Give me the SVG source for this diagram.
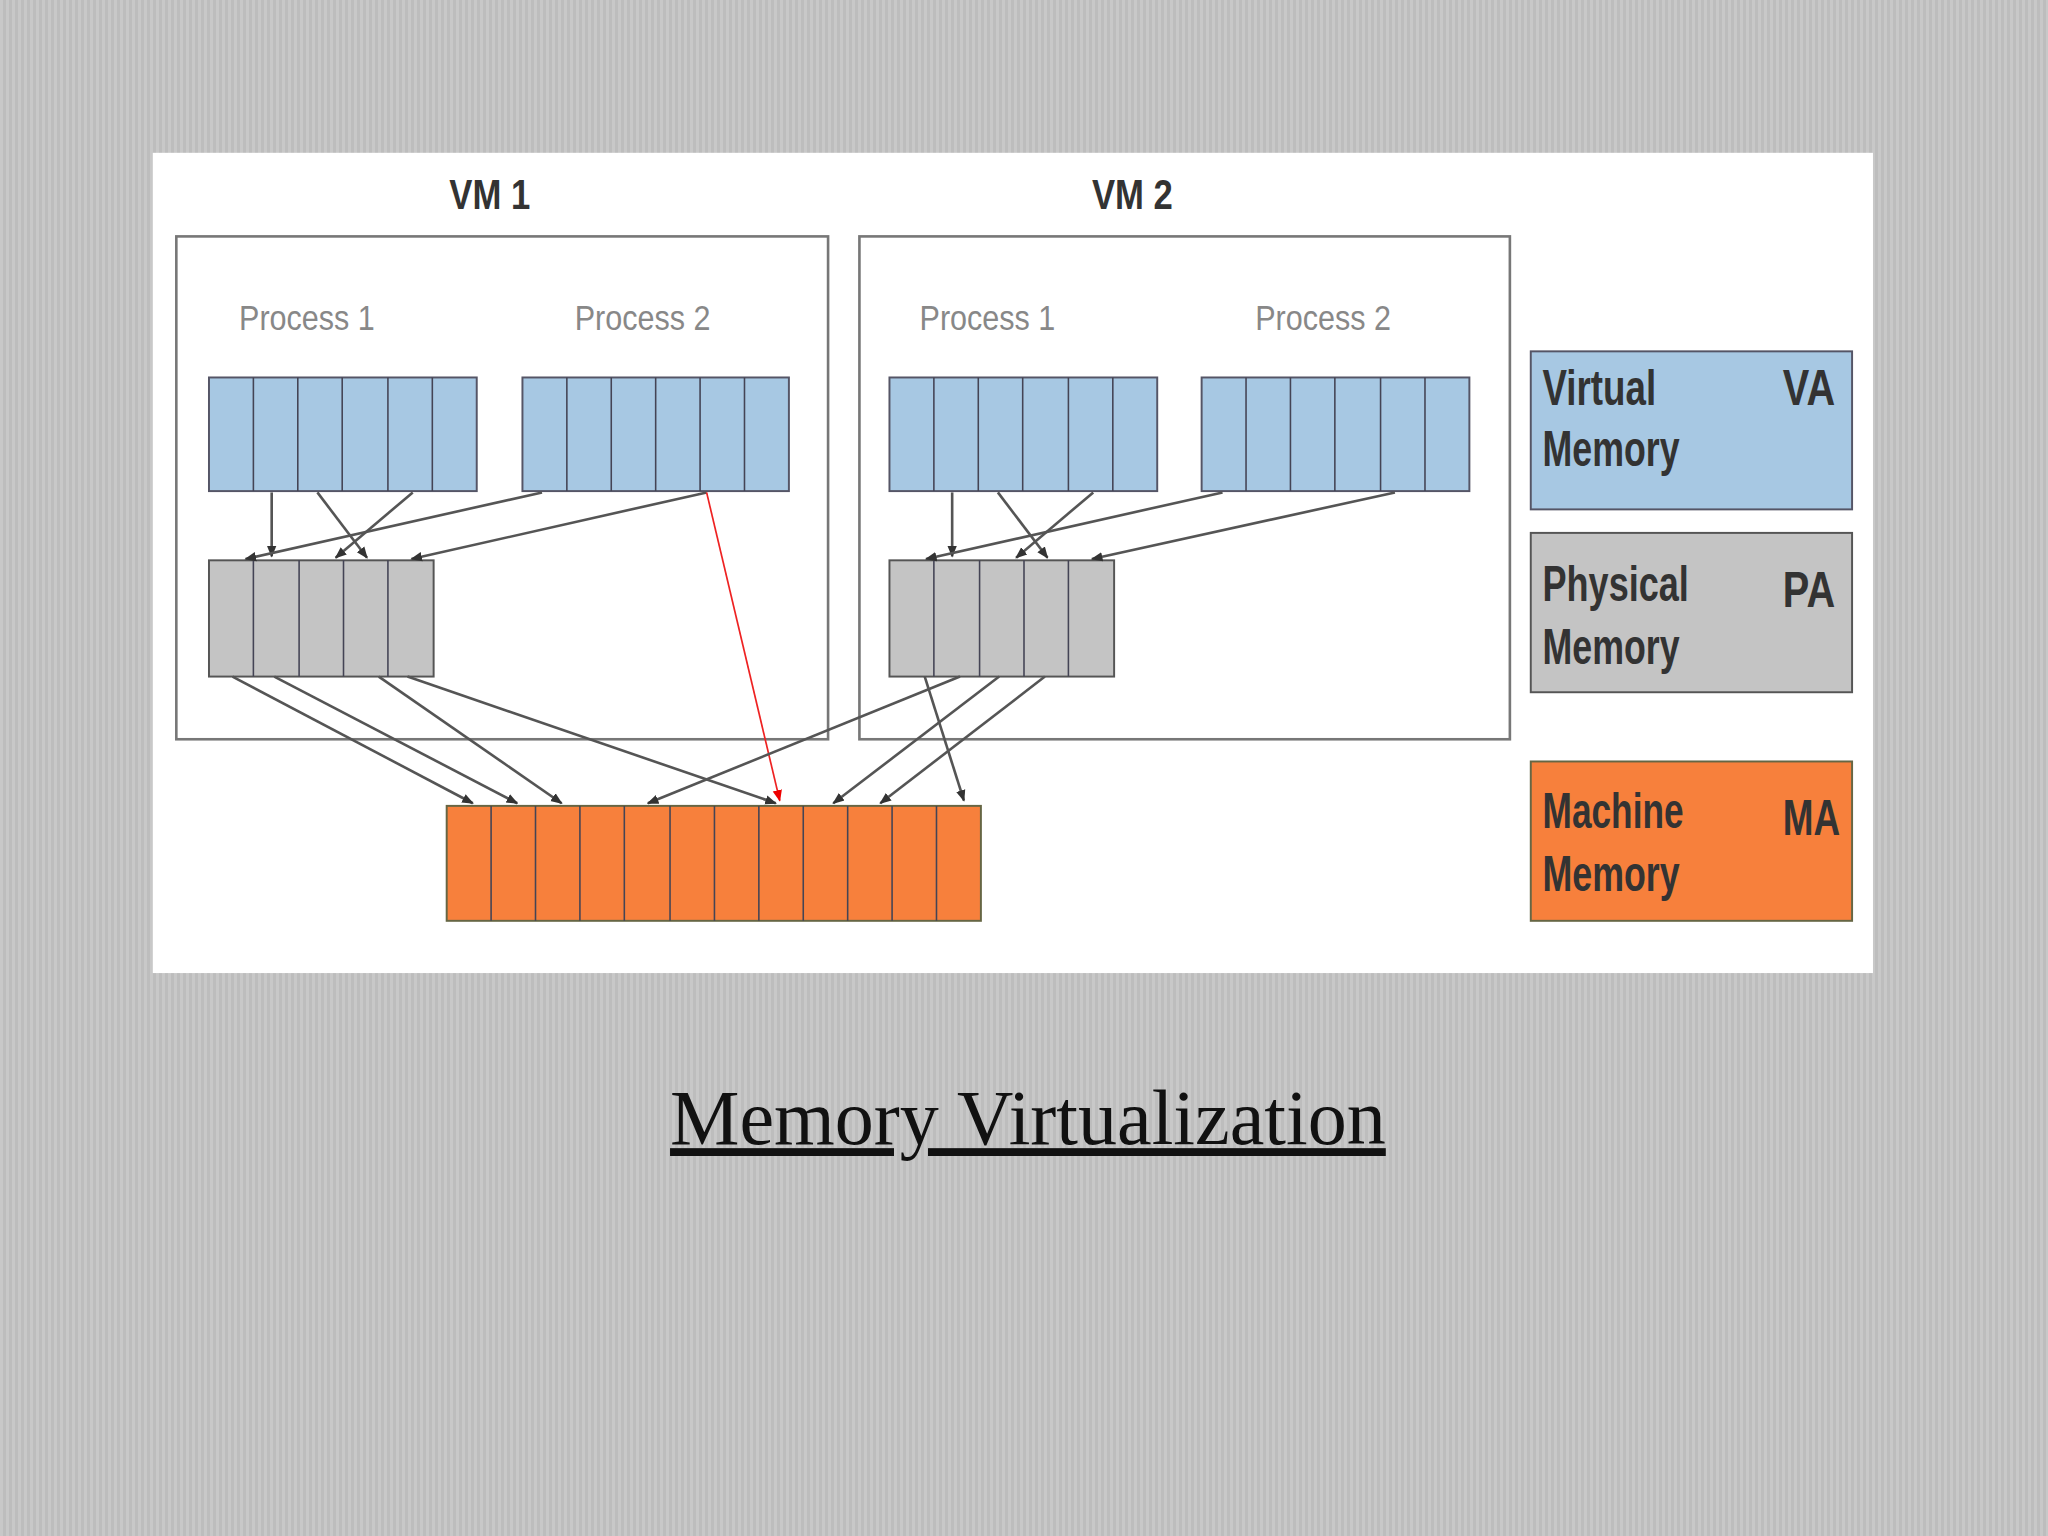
<svg xmlns="http://www.w3.org/2000/svg" width="2048" height="1536" viewBox="0 0 2048 1536">
<defs>
<pattern id="stripes" width="6" height="10" patternUnits="userSpaceOnUse">
<rect width="6" height="10" fill="#bdbdbd"/><rect width="3" height="10" fill="#c8c8c8"/>
</pattern>
<marker id="ah" viewBox="0 0 10 10" refX="9" refY="5" markerWidth="9" markerHeight="9" markerUnits="userSpaceOnUse" orient="auto"><path d="M0,1 L10,5 L0,9 z" fill="#333"/></marker>
<marker id="ahr" viewBox="0 0 10 10" refX="9" refY="5" markerWidth="9" markerHeight="9" markerUnits="userSpaceOnUse" orient="auto"><path d="M0,1 L10,5 L0,9 z" fill="#e00"/></marker>
</defs>
<style>
.va{fill:#a7c8e3;stroke:#556;stroke-width:1.5}
.pa{fill:#c4c4c4;stroke:#555;stroke-width:1.5}
.ma{fill:#f7803c;stroke:#664;stroke-width:1.5}
.cell{stroke:#445;stroke-width:1.2}
.vm{fill:none;stroke:#777;stroke-width:2}
.proc{font-family:"Liberation Sans",sans-serif;font-size:27px;fill:#888}
.vmt{font-family:"Liberation Sans",sans-serif;font-size:32px;font-weight:bold;fill:#333}
.leg{font-family:"Liberation Sans",sans-serif;font-size:38px;font-weight:bold;fill:#333}
.c{fill:none;stroke:#555;stroke-width:2;marker-end:url(#ah)}
</style>
<rect width="2048" height="1536" fill="url(#stripes)"/>
<g transform="scale(1.30612)">
<rect x="117" y="117" width="1317" height="628" fill="#fff"/>
<g id="vm1"><rect class="vm" x="135" y="181" width="499" height="385"/><text class="vmt" x="375" y="160" text-anchor="middle" textLength="62" lengthAdjust="spacingAndGlyphs">VM 1</text>
<text class="proc" x="235" y="253" text-anchor="middle" textLength="104" lengthAdjust="spacingAndGlyphs">Process 1</text>
<text class="proc" x="492" y="253" text-anchor="middle" textLength="104" lengthAdjust="spacingAndGlyphs">Process 2</text></g>
<g id="vm2"><rect class="vm" x="658" y="181" width="498" height="385"/><text class="vmt" x="867" y="160" text-anchor="middle" textLength="62" lengthAdjust="spacingAndGlyphs">VM 2</text>
<text class="proc" x="756" y="253" text-anchor="middle" textLength="104" lengthAdjust="spacingAndGlyphs">Process 1</text>
<text class="proc" x="1013" y="253" text-anchor="middle" textLength="104" lengthAdjust="spacingAndGlyphs">Process 2</text></g>
<g id="vm1-p1-va"><rect class="va" x="160" y="289" width="205" height="87"/><path class="cell" d="M194,289V376M228,289V376M262,289V376M297,289V376M331,289V376"/></g>
<g id="vm1-p2-va"><rect class="va" x="400" y="289" width="204" height="87"/><path class="cell" d="M434,289V376M468,289V376M502,289V376M536,289V376M570,289V376"/></g>
<g id="vm2-p1-va"><rect class="va" x="681" y="289" width="205" height="87"/><path class="cell" d="M715,289V376M749,289V376M783,289V376M818,289V376M852,289V376"/></g>
<g id="vm2-p2-va"><rect class="va" x="920" y="289" width="205" height="87"/><path class="cell" d="M954,289V376M988,289V376M1022,289V376M1057,289V376M1091,289V376"/></g>
<g id="vm1-pa"><rect class="pa" x="160" y="429" width="172" height="89"/><path class="cell" d="M194,429V518M229,429V518M263,429V518M297,429V518"/></g>
<g id="vm2-pa"><rect class="pa" x="681" y="429" width="172" height="89"/><path class="cell" d="M715,429V518M750,429V518M784,429V518M818,429V518"/></g>
<g id="ma"><rect class="ma" x="342" y="617" width="409" height="88"/><path class="cell" d="M376,617V705M410,617V705M444,617V705M478,617V705M513,617V705M547,617V705M581,617V705M615,617V705M649,617V705M683,617V705M717,617V705"/></g>
<g id="connectors">
<path class="c" d="M208,377L208,426"/>
<path class="c" d="M243,377L281,427"/>
<path class="c" d="M316,377L257,427"/>
<path class="c" d="M415,377L188,428"/>
<path class="c" d="M541,377L315,428"/>
<path d="M541,377L597,613" fill="none" stroke="#e22" stroke-width="1.3" marker-end="url(#ahr)"/>
<path class="c" d="M729,377L729,426"/>
<path class="c" d="M764,377L802,427"/>
<path class="c" d="M837,377L778,427"/>
<path class="c" d="M936,377L709,428"/>
<path class="c" d="M1068,377L836,428"/>
<path class="c" d="M178,518L362,615"/>
<path class="c" d="M210,518L396,615"/>
<path class="c" d="M290,518L430,615"/>
<path class="c" d="M312,518L594,615"/>
<path class="c" d="M735,518L496,615"/>
<path class="c" d="M708,518L738,613"/>
<path class="c" d="M765,518L638,615"/>
<path class="c" d="M800,518L674,615"/>
</g>
<g id="legend-va"><rect class="va" x="1172" y="269" width="246" height="121"/><text class="leg" x="1181" y="310" textLength="87" lengthAdjust="spacingAndGlyphs">Virtual</text><text class="leg" x="1181" y="357" textLength="105" lengthAdjust="spacingAndGlyphs">Memory</text><text class="leg" x="1365" y="310" textLength="40" lengthAdjust="spacingAndGlyphs">VA</text></g>
<g id="legend-pa"><rect class="pa" x="1172" y="408" width="246" height="122"/><text class="leg" x="1181" y="460" textLength="112" lengthAdjust="spacingAndGlyphs">Physical</text><text class="leg" x="1181" y="508" textLength="105" lengthAdjust="spacingAndGlyphs">Memory</text><text class="leg" x="1365" y="465" textLength="40" lengthAdjust="spacingAndGlyphs">PA</text></g>
<g id="legend-ma"><rect class="ma" x="1172" y="583" width="246" height="122"/><text class="leg" x="1181" y="634" textLength="108" lengthAdjust="spacingAndGlyphs">Machine</text><text class="leg" x="1181" y="682" textLength="105" lengthAdjust="spacingAndGlyphs">Memory</text><text class="leg" x="1365" y="639" textLength="44" lengthAdjust="spacingAndGlyphs">MA</text></g>
<g id="title"><text x="787" y="876" text-anchor="middle" font-family="'Liberation Serif',serif" font-size="60" fill="#111" textLength="548" lengthAdjust="spacingAndGlyphs" text-decoration="underline">Memory Virtualization</text></g>
</g>
</svg>
